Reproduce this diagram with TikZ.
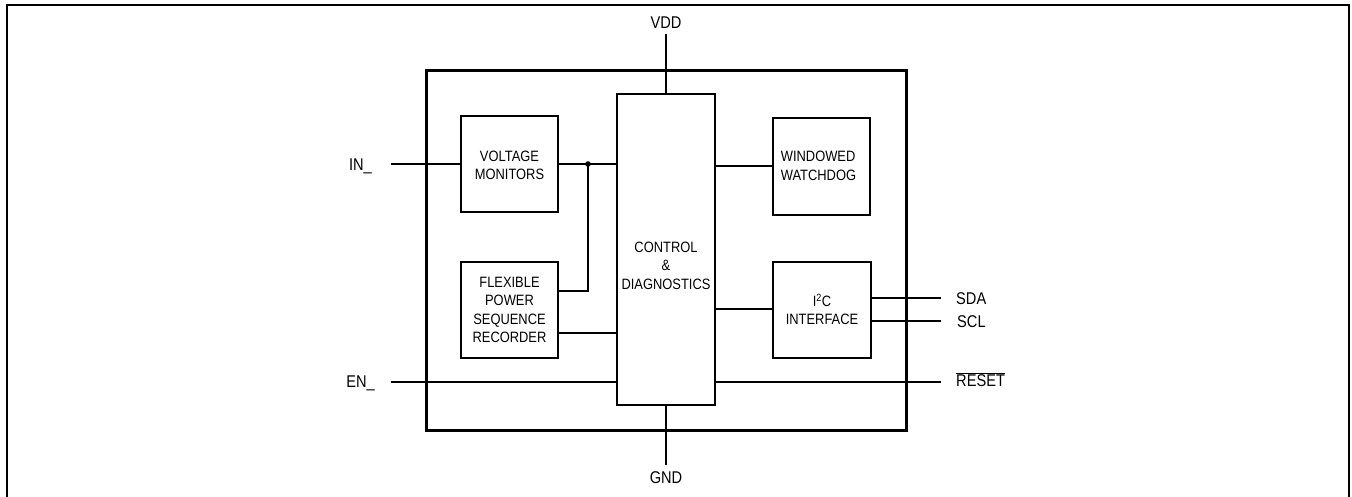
\documentclass[tikz,border=0pt]{standalone}
\usepackage{fontspec}
\setmainfont{Liberation Sans}[FakeStretch=0.86]
\usetikzlibrary{calc}
\begin{document}
\begin{tikzpicture}[x=1pt,y=-1pt,
  blk/.style={draw, line width=1.2pt, inner sep=0pt, align=center},
  wire/.style={line width=1.2pt},
  lbl/.style={inner sep=0pt, font=\fontsize{15}{18.5}\selectfont, align=center},
  pin/.style={inner sep=0pt, font=\fontsize{17}{20}\selectfont},
  chipbox/.style={draw, line width=3pt},
  frame/.style={line width=1.4pt}]
\useasboundingbox (0,0) rectangle (1352,496);
\draw[frame] (7,500) -- (7,5) -- (1349,5) -- (1349,500);
% chip outline
\draw[chipbox] (426,70) rectangle (906,430);
% blocks
\node[blk, minimum width=98pt, minimum height=311pt] (ctl) at (666,249.5) {};
\node[lbl] (ctltxt) at (666,265.5) {CONTROL\\\&\\DIAGNOSTICS};
\node[blk, minimum width=97pt, minimum height=96pt] (vm) at (509.5,164) {};
\node[lbl] (vmtxt) at (509.5,165.5) {VOLTAGE\\MONITORS};
\node[blk, minimum width=97pt, minimum height=96pt] (fp) at (509.5,310) {};
\node[lbl] (fptxt) at (509.5,310) {FLEXIBLE\\POWER\\SEQUENCE\\RECORDER};
\node[blk, minimum width=97pt, minimum height=97pt] (wd) at (821.5,166.5) {};
\node[lbl, align=left] (wdtxt) at (818.5,166) {WINDOWED\\WATCHDOG};
\node[blk, minimum width=98pt, minimum height=96pt] (i2c) at (822,310) {};
\node[lbl] (i2ctxt) at (822,309.5) {I\textsuperscript{2}C\\INTERFACE};
% pin coordinates
\coordinate (in) at (391,164);
\coordinate (en) at (391,382);
\coordinate (vdd) at (666,34);
\coordinate (gnd) at (666,465);
\coordinate (sda) at (941,298);
\coordinate (scl) at (941,321);
\coordinate (rst) at (941,382);
\coordinate (j) at (588,164);
% wires
\draw[wire] (in) -- (vm.west);
\draw[wire] (vm.east) -- (ctl.west |- vm.east);
\draw[wire] (j) |- (fp.east |- 0,291);
\fill (j) circle (2.8pt);
\draw[wire] (fp.east |- 0,333) -- (ctl.west |- 0,333);
\draw[wire] (en) -- (ctl.west |- en);
\draw[wire] (vdd) -- (ctl.north);
\draw[wire] (ctl.south) -- (gnd);
\draw[wire] (ctl.east |- 0,166) -- (wd.west |- 0,166);
\draw[wire] (ctl.east |- 0,309) -- (i2c.west |- 0,309);
\draw[wire] (i2c.east |- sda) -- (sda);
\draw[wire] (i2c.east |- scl) -- (scl);
\draw[wire] (ctl.east |- rst) -- (rst);
% pin labels
\node[pin, anchor=base] (vddl) at (666,28) {VDD};
\node[pin, anchor=base] (gndl) at (666,483) {GND};
\node[pin, anchor=base east] (inl) at (372,170) {IN\_};
\node[pin, anchor=base east] (enl) at (375,387) {EN\_};
\node[pin, anchor=base west] (sdal) at (956,304) {SDA};
\node[pin, anchor=base west] (scll) at (957,327) {SCL};
\node[pin, anchor=base west] (rstl) at (956,386) {$\overline{\mbox{RESET}}$};
\end{tikzpicture}
\end{document}
